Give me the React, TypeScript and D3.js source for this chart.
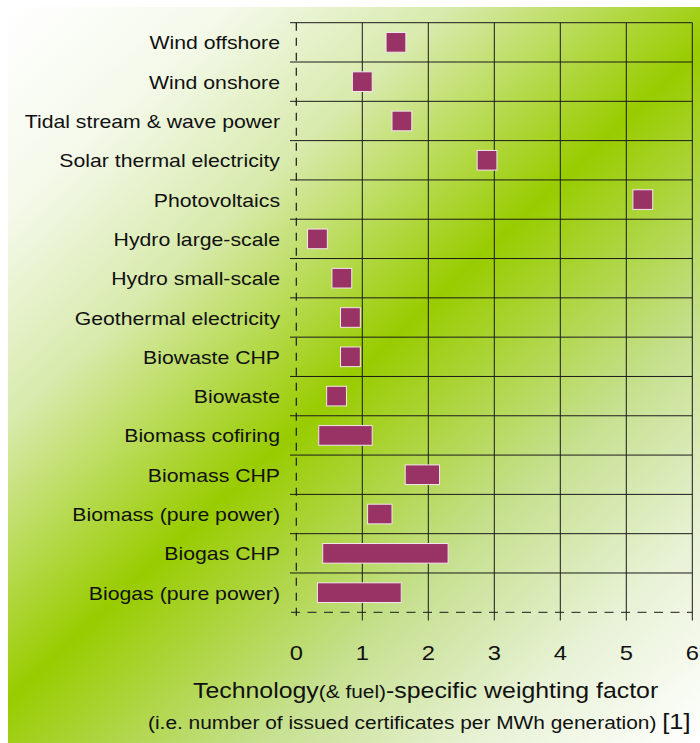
import React from 'react';
import * as d3 from 'd3';

// weighting factors (low / high end of each marker)
const technologies = [
  'Wind offshore',
  'Wind onshore',
  'Tidal stream & wave power',
  'Solar thermal electricity',
  'Photovoltaics',
  'Hydro large-scale',
  'Hydro small-scale',
  'Geothermal electricity',
  'Biowaste CHP',
  'Biowaste',
  'Biomass cofiring',
  'Biomass CHP',
  'Biomass (pure power)',
  'Biogas CHP',
  'Biogas (pure power)',
];
const lowValues = [1.36, 0.85, 1.45, 2.74, 5.1, 0.17, 0.54, 0.67, 0.67, 0.46, 0.34, 1.65, 1.08, 0.4, 0.32];
const highValues = [1.66, 1.15, 1.75, 3.04, 5.4, 0.47, 0.84, 0.97, 0.97, 0.76, 1.15, 2.17, 1.45, 2.3, 1.59];
const xTicks = [0, 1, 2, 3, 4, 5, 6];

const W = 700;
const H = 743;
const FONT = '"Liberation Sans", Arial, Helvetica, sans-serif';
const SX = 1.13; // the source text is a little stretched horizontally

const App: React.FC = () => {
  const x = d3.scaleLinear().domain([0, 6]).range([296.3, 692.3]);
  const y = d3.scaleBand().domain(technologies).range([22.7, 612.3]);
  const barH = y.bandwidth() * 0.5;
  const rowLines = [...technologies.map(t => y(t) as number), 22.7 + y.step() * technologies.length];
  const bottom = rowLines[rowLines.length - 1];

  return (
    <svg width={W} height={H} style={{ position: 'absolute', left: 0, top: 0, display: 'block' }}>
      <defs>
        <linearGradient id="bg" gradientUnits="userSpaceOnUse" x1={8} y1={7} x2={700} y2={743}>
          <stop offset="0" stopColor="#ffffff" />
          <stop offset="0.15" stopColor="#f4f9ea" />
          <stop offset="0.3" stopColor="#d8eaac" />
          <stop offset="0.5" stopColor="#99cc00" />
          <stop offset="0.7" stopColor="#c6e08f" />
          <stop offset="0.85" stopColor="#e8f2d6" />
          <stop offset="1" stopColor="#ffffff" />
        </linearGradient>
      </defs>
      <rect x={0} y={0} width={W} height={H} fill="#fff" />
      <rect x={8} y={7} width={692} height={736} fill="url(#bg)" />

      {/* horizontal row lines */}
      {rowLines.slice(0, -1).map((ly, i) => (
        <line key={'h' + i} x1={290} x2={x(6)} y1={ly} y2={ly} stroke="#1a1a1a" strokeWidth={1} />
      ))}
      {/* bottom dashed axis */}
      <line x1={290} x2={x(6)} y1={bottom} y2={bottom}
        stroke="#1a1a1a" strokeWidth={1} strokeDasharray="9,7.5" strokeDashoffset={-1} />
      {/* vertical grid lines */}
      {xTicks.map(t => (
        <line key={'v' + t} x1={x(t)} x2={x(t)} y1={22.7} y2={620.5}
          stroke="#1a1a1a" strokeWidth={t === 0 ? 1.2 : 1}
          strokeDasharray={t === 0 ? '8,7' : undefined} />
      ))}

      {/* markers */}
      {technologies.map((t, i) => (
        <rect key={t}
          x={x(lowValues[i])}
          y={(y(t) as number) + (y.bandwidth() - barH) / 2}
          width={x(highValues[i]) - x(lowValues[i])}
          height={barH}
          fill="#993366" stroke="#f3e6ec" strokeWidth={1} />
      ))}

      {/* category labels */}
      {technologies.map(t => (
        <text key={'l' + t} transform={`translate(280,${(y(t) as number) + y.bandwidth() / 2 + 7}) scale(${SX},1)`}
          textAnchor="end" fontFamily={FONT} fontSize={18.8} fill="#111">{t}</text>
      ))}

      {/* tick labels */}
      {xTicks.map(t => (
        <text key={'t' + t} transform={`translate(${x(t)},660) scale(${SX},1)`}
          textAnchor="middle" fontFamily={FONT} fontSize={21} fill="#111">{t}</text>
      ))}

      {/* axis titles */}
      <text transform={`translate(193,698) scale(${SX},1)`} fontFamily={FONT} fontSize={22} fill="#111">
        Technology<tspan fontSize={18.5}>(&amp; fuel)</tspan>-specific weighting factor
      </text>
      <text transform={`translate(148,729) scale(${SX},1)`} fontFamily={FONT} fontSize={18.5} fill="#111">
        (i.e. number of issued certificates per MWh generation) <tspan fontSize={22.5}>[1]</tspan>
      </text>
    </svg>
  );
};

export default App;
